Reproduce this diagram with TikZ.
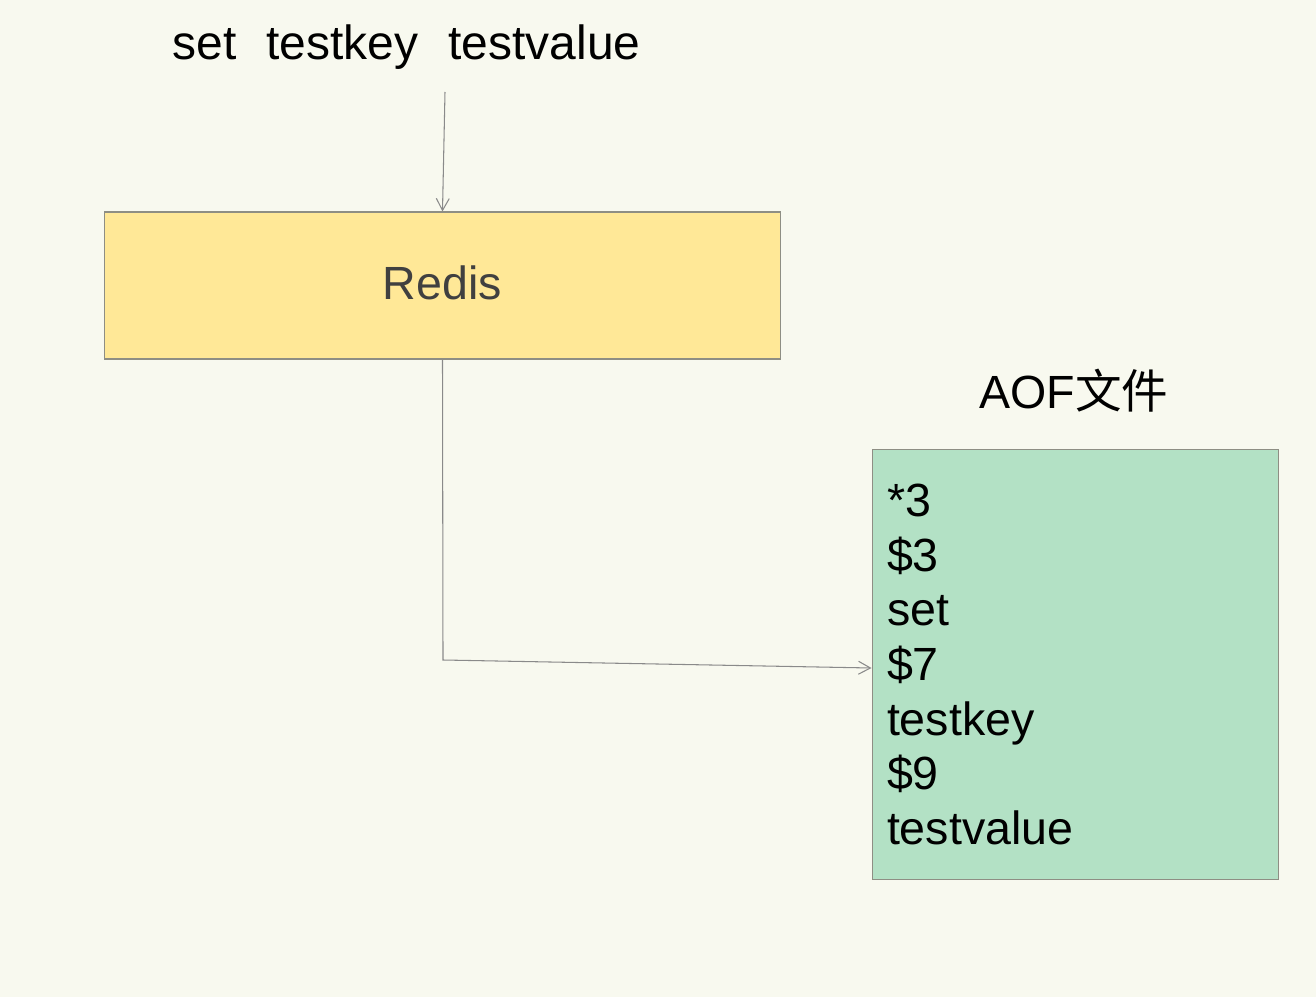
\documentclass[tikz,border=0pt]{standalone}
\usepackage{fontspec}
\setmainfont{Liberation Sans}
\newfontfamily\cjk{Noto Sans CJK SC}
\usetikzlibrary{arrows.meta}
\definecolor{bgcream}{HTML}{F8F9EF}
\definecolor{redisyellow}{HTML}{FFE897}
\definecolor{aofgreen}{HTML}{B3E1C5}
\definecolor{edgegray}{HTML}{8E8E84}
\definecolor{linegray}{HTML}{8A8A8A}
\definecolor{textgray}{HTML}{404040}

\begin{document}
\begin{tikzpicture}[x=0.02cm,y=-0.02cm,
    every node/.style={font=\fontsize{26.5}{31.1}\selectfont},
    box/.style={draw=edgegray,line width=0.6pt,inner sep=0pt},
    arr/.style={draw=linegray,line width=0.6pt,-{Straight Barb[length=2.4mm,width=2.6mm]}}]
    \fill [bgcream] (0,0) rectangle (1316,997);
    \node (cmd) [anchor=base,font=\fontsize{27.3}{32}\selectfont] at (406.5,60) {set\hspace{0.6cm}testkey\hspace{0.6cm}testvalue};
    \node (redis) [box,fill=redisyellow,minimum width=13.54cm,minimum height=2.94cm,text=textgray] at (442.5,285.5) {\raisebox{3pt}{Redis}};
    \node (aoflabel) [anchor=base] at (1074,408) {AOF{\cjk 文件}};
    \node (aof) [box,fill=aofgreen,minimum width=8.14cm,minimum height=8.62cm,align=left,text width=7.54cm] at (1075.5,664.5) {*3\\\$3\\set\\\$7\\testkey\\\$9\\testvalue};
    \coordinate (start) at (445,92);
    \coordinate (bend) at (443,660);
    \draw [arr] (start) -- (redis.north);
    \draw [arr] (redis.south) -- (bend) -- ([yshift=-0.07cm]aof.west);
\end{tikzpicture}
\end{document}
